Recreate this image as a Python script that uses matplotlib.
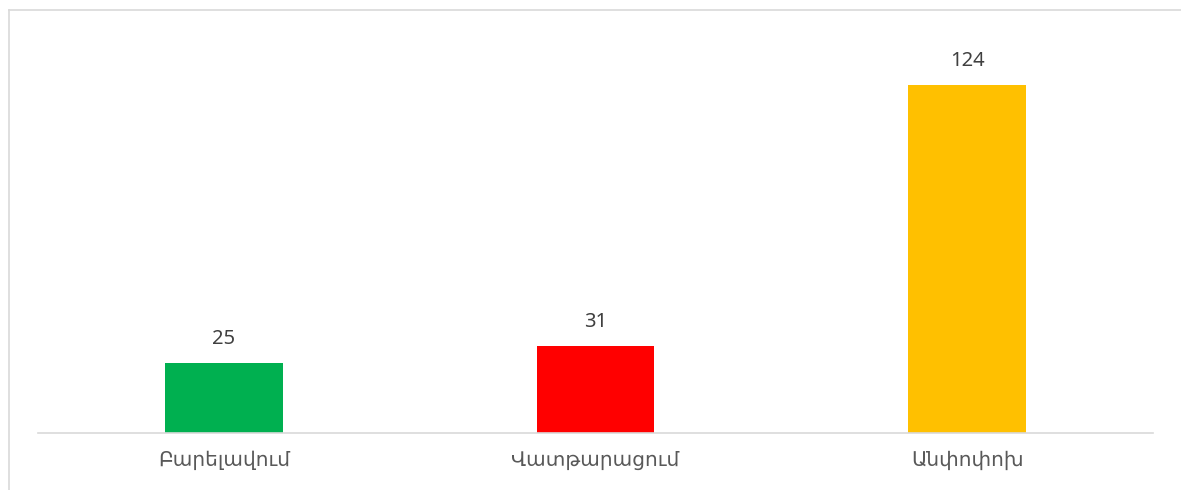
import matplotlib
matplotlib.use("Agg")
import matplotlib.pyplot as plt
from matplotlib.lines import Line2D

categories = ["Բարելավում", "Վատթարացում", "Անփոփոխ"]
values = [25, 31, 124]
colors = ["#00B050", "#FF0000", "#FFC000"]

W, H = 1181, 490
fig = plt.figure(figsize=(W / 100, H / 100), dpi=100)
plt.rcParams['font.family'] = ['Noto Sans', 'DejaVu Sans']

# outer chart border: only top and left edges visible (cropped)
bx, by = 8.5 / W, 1 - 10.5 / H
fig.lines.append(Line2D([bx, 1.0], [by, by], transform=fig.transFigure,
                        color="#D9D9D9", linewidth=1.2))
fig.lines.append(Line2D([bx, bx], [0.0, by], transform=fig.transFigure,
                        color="#D9D9D9", linewidth=1.2))

x0, x1 = 38, 1153
ybase = 433
ymax = 140
ppu = (433 - 85) / 124
ytop = ybase - ymax * ppu
ax = fig.add_axes([x0 / W, (H - ybase) / H, (x1 - x0) / W, (ybase - ytop) / H])

xs = range(len(categories))
bars = ax.bar(xs, values, width=0.317, color=colors)
for x, v in zip(xs, values):
    ax.text(x, v + 5, str(v), ha="center", va="bottom", fontsize=14.5, color="#404040")

ax.set_xlim(-0.5, len(categories) - 0.5)
ax.set_ylim(0, ymax)
ax.set_yticks([])
ax.set_xticks(list(xs))
ax.set_xticklabels(categories, fontsize=14.5, color="#595959")
ax.tick_params(axis="x", length=0, pad=13)
for s in ["top", "right", "left"]:
    ax.spines[s].set_visible(False)
ax.spines["bottom"].set_color("#D9D9D9")
ax.spines["bottom"].set_linewidth(1.2)
ax.patch.set_alpha(0)

fig.savefig("out.png", dpi=100, facecolor="white")
